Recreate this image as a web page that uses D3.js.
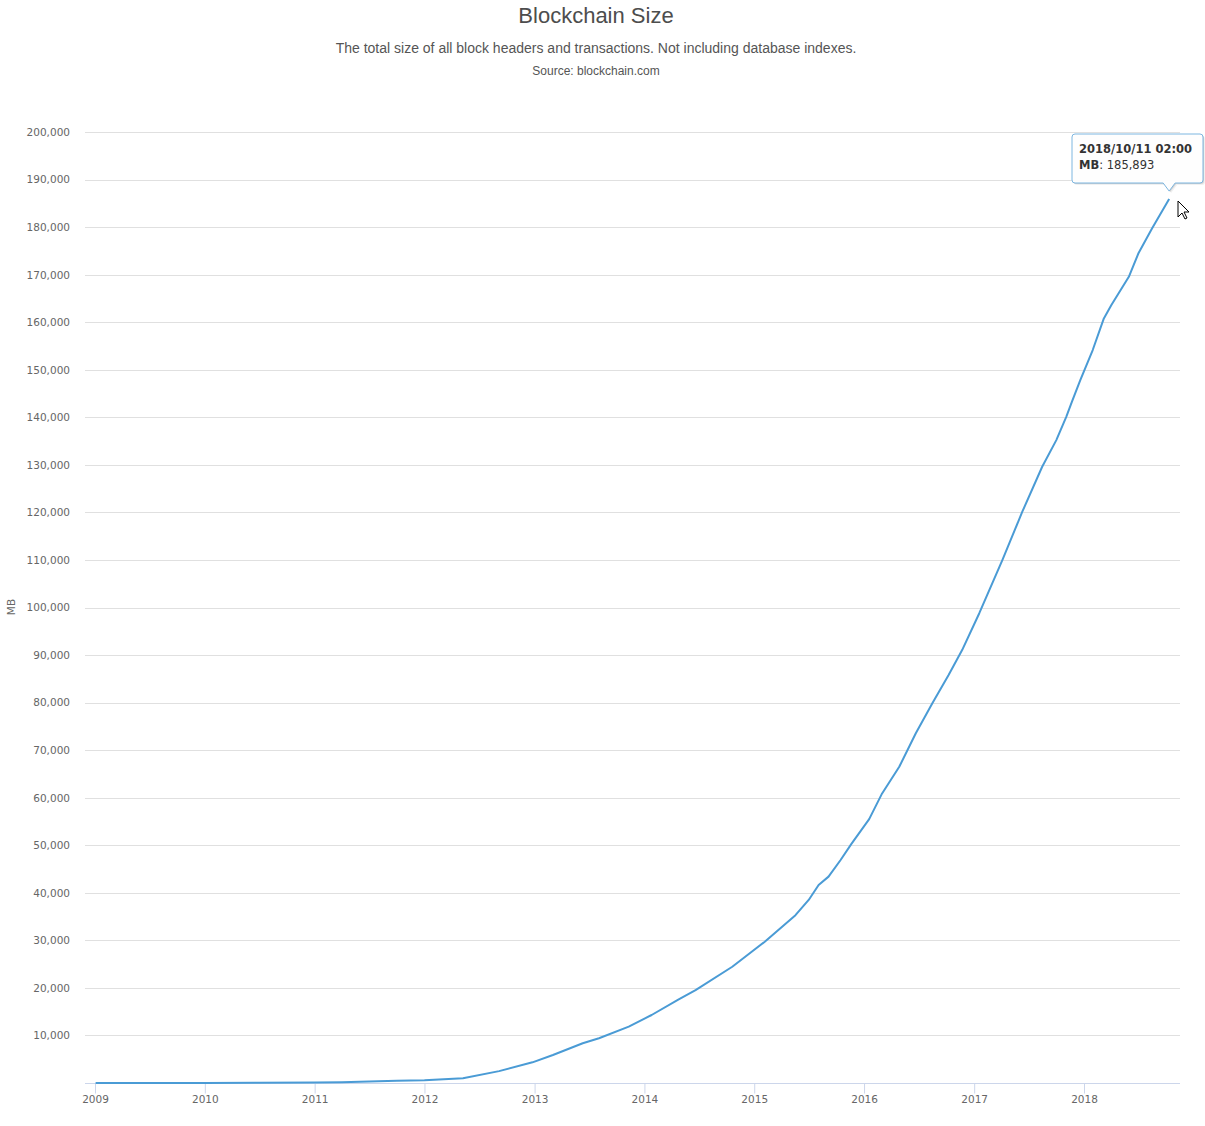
<!DOCTYPE html>
<html>
<head>
<meta charset="utf-8">
<script src="https://cdn.jsdelivr.net/npm/d3@7/dist/d3.min.js"></script>
<style>
  html, body { margin: 0; padding: 0; background: #fff; }
  svg { display: block; }
</style>
</head>
<body>
<svg id="chart" width="1205" height="1126"></svg>
<script>
// ---- data ----
const dates = [
  "2009-01-03","2009-07-01","2010-01-01","2010-07-01","2011-01-01","2011-04-01",
  "2011-07-01","2011-10-01","2012-01-01","2012-05-08","2012-09-05","2012-12-25",
  "2013-03-03","2013-06-10","2013-08-03","2013-11-10","2014-01-25","2014-04-25",
  "2014-06-20","2014-10-20","2015-02-05","2015-05-18","2015-07-01","2015-08-03",
  "2015-09-05","2015-10-15","2015-11-20","2016-01-18","2016-03-01","2016-04-27",
  "2016-06-21","2016-08-15","2016-10-08","2016-11-22","2017-01-18","2017-04-05",
  "2017-06-10","2017-08-15","2017-10-01","2017-11-03","2017-11-22","2017-12-20",
  "2018-01-30","2018-03-08","2018-04-02","2018-05-30","2018-07-01","2018-08-15",
  "2018-10-11"
];
const sizeMB = [
  0, 2, 10, 30, 100, 180,
  320, 450, 600, 1000, 2500, 4350,
  5900, 8350, 9400, 11850, 14300, 17600,
  19550, 24450, 29700, 35300, 38500, 41650,
  43400, 46900, 50300, 55500, 60900, 66500,
  73550, 79850, 85800, 91050, 98800, 110000,
  120150, 129600, 135200, 140100, 143300, 147850,
  154150, 160800, 163600, 169550, 174500, 179700,
  185893
];
const yTicks = [10000,20000,30000,40000,50000,60000,70000,80000,90000,100000,
  110000,120000,130000,140000,150000,160000,170000,180000,190000,200000];
const xTickYears = ["2009","2010","2011","2012","2013","2014","2015","2016","2017","2018"];
const titleText = "Blockchain Size";
const subtitleText = "The total size of all block headers and transactions. Not including database indexes.";
const sourceText = "Source: blockchain.com";
const yAxisTitle = "MB";
const tooltipDate = "2018/10/11 02:00";

// ---- drawing ----
const svg = d3.select("#chart");
const parse = d3.timeParse("%Y-%m-%d");
const data = dates.map((d, i) => ({ date: parse(d), value: sizeMB[i] }));

const plotLeft = 85, plotRight = 1180, plotTop = 132, plotBottom = 1083;

const x = d3.scaleTime()
  .domain([new Date(2009, 0, 1), new Date(2018, 0, 1)])
  .range([95, 1084]);
const y = d3.scaleLinear().domain([0, 200000]).range([plotBottom, plotTop]);

const sans = "'Liberation Sans', Arial, Helvetica, sans-serif";
const verd = "'DejaVu Sans', Verdana, sans-serif";

// titles
svg.append("text").attr("x", 596).attr("y", 23).attr("text-anchor", "middle")
  .style("font-family", sans).style("font-size", "22px").style("fill", "#4d4d4d")
  .text(titleText);
svg.append("text").attr("x", 596).attr("y", 53).attr("text-anchor", "middle")
  .style("font-family", sans).style("font-size", "14px").style("fill", "#555")
  .text(subtitleText);
svg.append("text").attr("x", 596).attr("y", 75).attr("text-anchor", "middle")
  .style("font-family", sans).style("font-size", "12px").style("fill", "#555")
  .text(sourceText);

// grid lines
svg.append("g").selectAll("line").data(yTicks).join("line")
  .attr("x1", plotLeft).attr("x2", plotRight)
  .attr("y1", d => Math.round(y(d)) + 0.5).attr("y2", d => Math.round(y(d)) + 0.5)
  .attr("stroke", "#e0e0e0").attr("stroke-width", 1);

// y axis labels
const fmt = d3.format(",");
const yAxis = d3.axisLeft(y).tickValues(yTicks).tickFormat(fmt).tickSize(0).tickPadding(0);
const yg = svg.append("g").attr("transform", `translate(70,0)`).call(yAxis);
yg.select(".domain").remove();
yg.selectAll("text").style("font-family", verd).style("font-size", "10.5px")
  .style("fill", "#666").attr("dy", "0.32em");

// y axis title
svg.append("text").attr("transform", `translate(15,607) rotate(-90)`)
  .attr("text-anchor", "middle")
  .style("font-family", verd).style("font-size", "10.5px").style("fill", "#666")
  .text(yAxisTitle);

// x axis
const xTickDates = xTickYears.map(s => new Date(+s, 0, 1));
const xAxis = d3.axisBottom(x).tickValues(xTickDates).tickFormat(d3.timeFormat("%Y"))
  .tickSize(10).tickSizeOuter(0).tickPadding(5);
const xg = svg.append("g").attr("transform", `translate(0,${plotBottom + 0.5})`).call(xAxis);
xg.select(".domain").remove();
xg.append("line").attr("x1", plotLeft).attr("x2", plotRight).attr("y1", 0).attr("y2", 0)
  .attr("stroke", "#ccd6eb");
xg.selectAll(".tick line").attr("stroke", "#ccd6eb");
xg.selectAll(".tick text").style("font-family", verd).style("font-size", "10.5px")
  .style("fill", "#666").attr("y", 12).attr("dy", "0.71em");

// line
const line = d3.line().x(d => x(d.date)).y(d => y(d.value)).curve(d3.curveLinear);
svg.append("path").datum(data).attr("d", line)
  .attr("fill", "none").attr("stroke", "#4a9bd5").attr("stroke-width", 2)
  .attr("stroke-linejoin", "round");

// tooltip
const last = data[data.length - 1];
const px = x(last.date), py = y(last.value);
const tx = 1072, ty = 134, tw = 131, th = 49;
const ax = px, ayTip = py - 8;
const tipPath = `M${tx + 3},${ty} H${tx + tw - 3} Q${tx + tw},${ty} ${tx + tw},${ty + 3} V${ty + th - 3} Q${tx + tw},${ty + th} ${tx + tw - 3},${ty + th} H${ax + 6} L${ax},${ayTip} L${ax - 6},${ty + th} H${tx + 3} Q${tx},${ty + th} ${tx},${ty + th - 3} V${ty + 3} Q${tx},${ty} ${tx + 3},${ty} Z`;
const tipG = svg.append("g");
tipG.append("path").attr("d", tipPath).attr("transform", "translate(1,1)")
  .attr("fill", "rgba(0,0,0,0.12)").attr("stroke", "none");
tipG.append("path").attr("d", tipPath).attr("transform", "translate(2,2)")
  .attr("fill", "rgba(0,0,0,0.06)").attr("stroke", "none");
tipG.append("path").attr("d", tipPath)
  .attr("fill", "rgba(255,255,255,0.97)").attr("stroke", "#7db6e0").attr("stroke-width", 1);
tipG.append("text").attr("x", tx + 7).attr("y", ty + 19)
  .style("font-family", verd).style("font-size", "11.5px").style("font-weight", "bold").style("fill", "#333")
  .text(tooltipDate);
const t2 = tipG.append("text").attr("x", tx + 7).attr("y", ty + 35)
  .style("font-family", verd).style("font-size", "11.5px").style("fill", "#333");
t2.append("tspan").style("font-weight", "bold").text(yAxisTitle);
t2.append("tspan").text(": " + fmt(last.value));

// mouse cursor
const cx = 1178, cy = 201;
svg.append("path")
  .attr("d", `M${cx},${cy} L${cx},${cy + 16} L${cx + 4},${cy + 12} L${cx + 7},${cy + 18} L${cx + 9},${cy + 17} L${cx + 6},${cy + 11} L${cx + 11},${cy + 11} Z`)
  .attr("fill", "#fff").attr("stroke", "#000").attr("stroke-width", 1).attr("stroke-linejoin", "round");
</script>
</body>
</html>
